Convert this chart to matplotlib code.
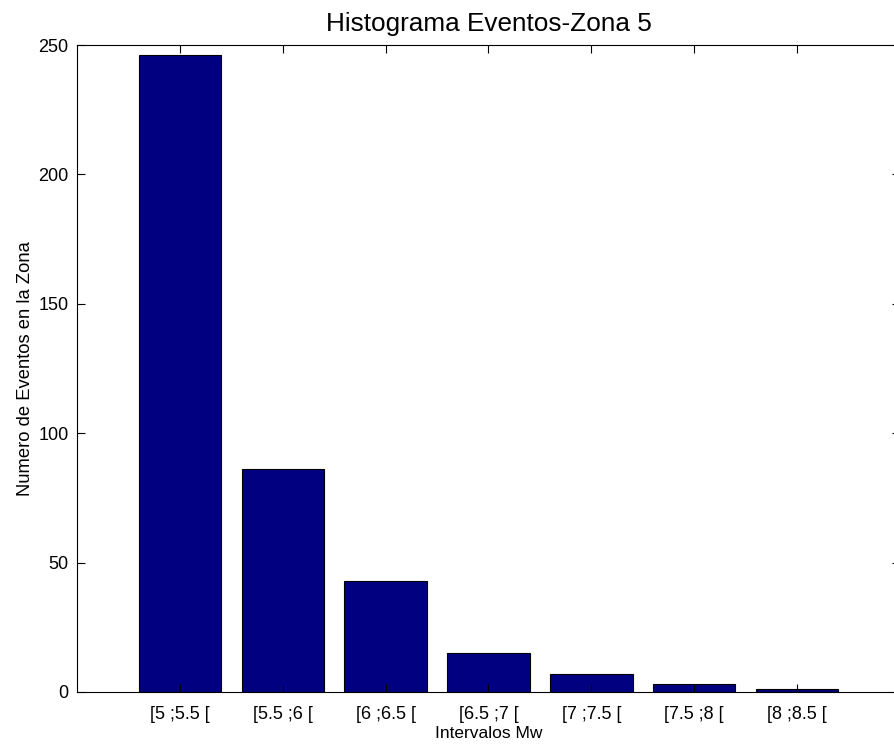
import numpy as np
import matplotlib.pyplot as plt

plt.rcParams['font.family'] = ['Liberation Sans', 'DejaVu Sans']

intervalos = ['[5 ;5.5 [', '[5.5 ;6 [', '[6 ;6.5 [', '[6.5 ;7 [',
              '[7 ;7.5 [', '[7.5 ;8 [', '[8 ;8.5 [']
eventos = [246, 86, 43, 15, 7, 3, 1]

x = np.arange(1, len(eventos) + 1)

fig = plt.figure(figsize=(8.95, 7.44), dpi=100)
ax = fig.add_axes([0.086, 0.0699, 0.9196, 0.8696])
ax.bar(x, eventos, width=0.8, color='#000080', edgecolor='black', linewidth=0.8)

ax.set_xlim(0, 8)
ax.set_ylim(0, 250)
ax.set_xticks(x)
ax.set_xticklabels(intervalos)
ax.set_yticks(np.arange(0, 251, 50))
ax.tick_params(direction='in', top=True, right=True, length=6, labelsize=13)
ax.tick_params(axis='x', pad=10)
ax.tick_params(axis='y', pad=6)
for s in ax.spines.values():
    s.set_linewidth(0.8)

ax.set_title('Histograma Eventos-Zona 5', fontsize=18.8, pad=10)
ax.set_xlabel('Intervalos Mw', fontsize=12.5, labelpad=2)
ax.set_ylabel('Numero de Eventos en la Zona', fontsize=13.2, labelpad=3)

plt.savefig('out.png')
